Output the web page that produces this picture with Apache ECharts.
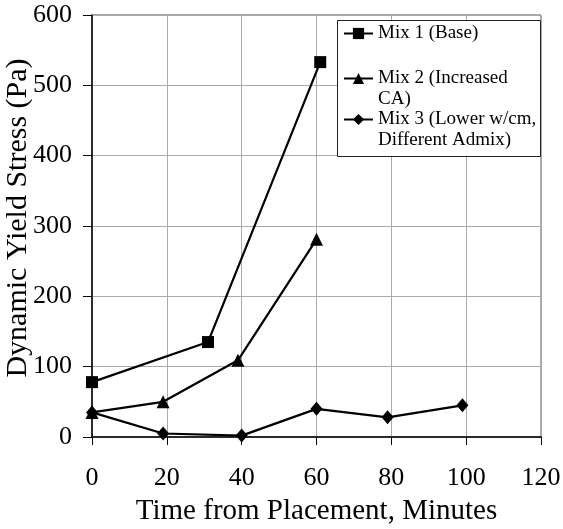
<!DOCTYPE html>
<html>
<head>
<meta charset="utf-8">
<script src="https://cdn.jsdelivr.net/npm/echarts@6/dist/echarts.min.js"></script>
<style>html,body{margin:0;padding:0;background:#fff}#c{width:563px;height:529px}</style>
</head>
<body>
<div id="c"></div>
<script>
var xTicks = [0, 20, 40, 60, 80, 100, 120];
var yTicks = [0, 100, 200, 300, 400, 500, 600];
var seriesNames = ['Mix 1 (Base)', 'Mix 2 (Increased CA)', 'Mix 3 (Lower w/cm, Different Admix)'];
var legendLabels = ['Mix 1 (Base)', '\nMix 2 (Increased\nCA)', '\nMix 3 (Lower w/cm,\nDifferent Admix)'];
var mix1X = [0, 31, 61];
var mix1Y = [78, 135, 533];
var mix2X = [0, 19, 39, 60];
var mix2Y = [35, 50, 109, 281];
var mix3X = [0, 19, 40, 60, 79, 99];
var mix3Y = [35, 5, 2, 40, 28, 45];
var xTitle = 'Time from Placement, Minutes';
var yTitle = 'Dynamic Yield Stress (Pa)';

function pairs(xs, ys) { return xs.map(function (x, i) { return [x, ys[i]]; }); }

var FONT = 'Liberation Serif';
var chart = echarts.init(document.getElementById('c'));
var symbols = ['rect', 'triangle', 'diamond'];
var sizes = [12, 13, [12, 14]];
var datas = [pairs(mix1X, mix1Y), pairs(mix2X, mix2Y), pairs(mix3X, mix3Y)];
var legendTops = [23, 47, 88];

var series = seriesNames.map(function (n, i) {
  return {
    name: n, type: 'line', data: datas[i],
    symbol: symbols[i], symbolSize: sizes[i],
    showAllSymbol: true,
    lineStyle: { color: '#000', width: 2.2 },
    itemStyle: { color: '#000' },
    animation: false
  };
});

var legends = seriesNames.map(function (n, i) {
  return {
    data: [n], orient: 'vertical', left: 343, top: legendTops[i], padding: 0,
    itemWidth: 29, itemHeight: 14, itemGap: 0,
    formatter: function () { return legendLabels[i]; },
    textStyle: { fontFamily: FONT, fontSize: 19, lineHeight: 21, color: '#000' },
    selectedMode: false
  };
});

chart.setOption({
  backgroundColor: '#fff',
  animation: false,
  grid: { left: 92, right: 22, top: 15, bottom: 92, show: true, borderColor: '#555', borderWidth: 1, containLabel: false, outerBoundsMode: 'none' },
  xAxis: {
    type: 'value', min: xTicks[0], max: xTicks[xTicks.length - 1], interval: 20,
    name: xTitle, nameLocation: 'middle', nameGap: 60, nameMoveOverlap: false,
    nameTextStyle: { fontFamily: FONT, fontSize: 29, color: '#000' },
    axisLine: { lineStyle: { color: '#000', width: 1.5 } },
    axisTick: { show: true, length: 8, lineStyle: { color: '#000' } },
    axisLabel: { fontFamily: FONT, fontSize: 26, color: '#000', margin: 28 },
    splitLine: { show: true, lineStyle: { color: '#aaa', width: 1 } }
  },
  yAxis: {
    type: 'value', min: yTicks[0], max: yTicks[yTicks.length - 1], interval: 100,
    name: yTitle, nameLocation: 'middle', nameGap: 59, nameMoveOverlap: false,
    nameTextStyle: { fontFamily: FONT, fontSize: 30, color: '#000', padding: [0, 0, 0, 16] },
    axisLine: { show: true, lineStyle: { color: '#000', width: 1.5 } },
    axisTick: { show: true, length: 9, lineStyle: { color: '#000' } },
    axisLabel: { fontFamily: FONT, fontSize: 26, color: '#000', margin: 20 },
    splitLine: { show: true, lineStyle: { color: '#aaa', width: 1 } }
  },
  legend: legends,
  graphic: [{
    type: 'rect', left: 337, top: 20, z: 3,
    shape: { width: 203, height: 136 },
    style: { fill: '#fff', stroke: '#222', lineWidth: 1 }
  }],
  series: series
});
</script>
</body>
</html>
